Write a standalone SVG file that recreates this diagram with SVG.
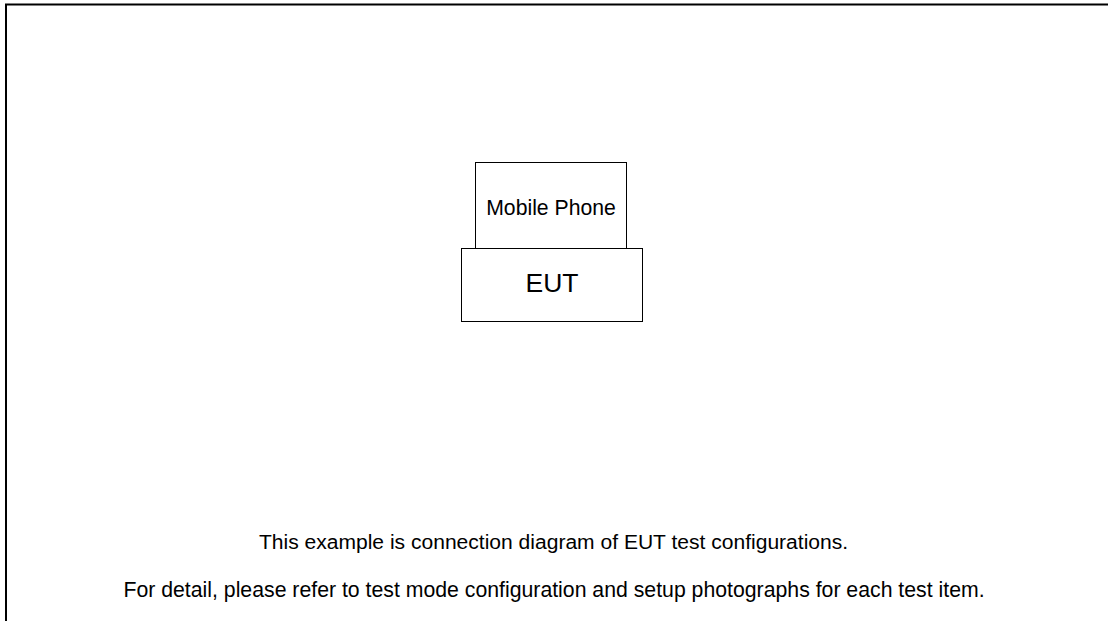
<svg xmlns="http://www.w3.org/2000/svg" width="1108" height="621" viewBox="0 0 1108 621">
<style>
.box{fill:#fff;stroke:#000;stroke-width:1}
.t{font-family:"Liberation Sans",Arial,sans-serif;fill:#000;text-anchor:middle}
</style>
<rect width="1108" height="621" fill="#fff"/>
<path d="M6,621 V4.5 H1108" fill="none" stroke="#000" stroke-width="2"/>
<g id="connectors"></g>
<g id="mobile-phone">
<rect class="box" x="475.5" y="162.5" width="151" height="86"/>
<text class="t" x="551" y="214.5" font-size="21.2">Mobile Phone</text>
</g>
<g id="eut">
<rect class="box" x="461.5" y="248.5" width="181" height="73"/>
<text class="t" x="552" y="292" font-size="26.5">EUT</text>
</g>
<g id="notes">
<text class="t" x="553.5" y="548.5" font-size="21.05">This example is connection diagram of EUT test configurations.</text>
<text class="t" x="554" y="597" font-size="21.25">For detail, please refer to test mode configuration and setup photographs for each test item.</text>
</g>
</svg>
